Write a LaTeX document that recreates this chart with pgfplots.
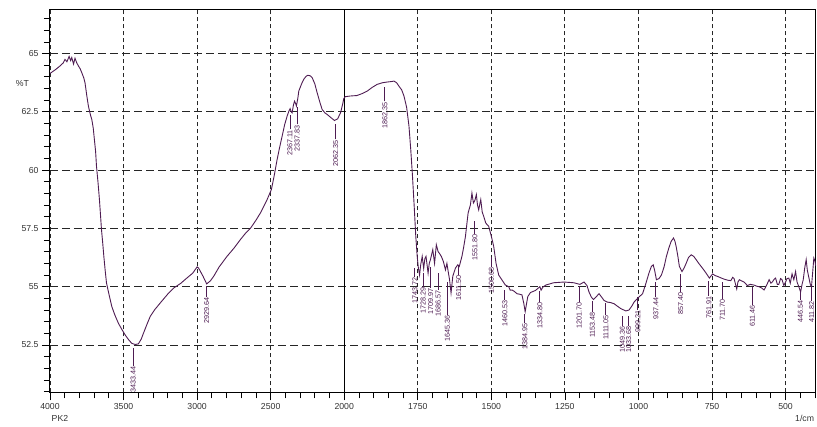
\documentclass[border=0pt]{standalone}
\usepackage{pgfplots}
\pgfplotsset{compat=1.18}
\usepackage{pgfplotstable}
\usepackage{fontspec}
\setmainfont{Liberation Sans}
\definecolor{spec}{RGB}{78,28,82}

\pgfplotstableread{
wn T
4000 64.15
3965 64.30
3932 64.47
3910 64.60
3898 64.75
3885 64.65
3870 64.88
3860 64.70
3852 64.83
3840 64.55
3830 64.80
3818 64.60
3805 64.45
3795 64.35
3784 64.18
3770 63.95
3762 63.75
3750 63.20
3739 62.75
3730 62.50
3722 62.30
3716 62.18
3706 61.80
3698 61.30
3690 60.80
3684 60.17
3674 59.50
3664 58.74
3657 58.10
3650 57.45
3642 56.90
3634 56.30
3625 55.70
3616 55.16
3600 54.70
3580 54.15
3560 53.80
3535 53.43
3510 53.15
3489 52.93
3465 52.72
3444 52.57
3420 52.52
3399 52.55
3380 52.75
3365 53.00
3340 53.40
3319 53.72
3290 54.00
3251 54.30
3200 54.68
3160 54.94
3110 55.15
3070 55.37
3030 55.58
3000 55.85
2990 55.80
2960 55.45
2935 55.12
2910 55.25
2888 55.44
2850 55.85
2797 56.30
2750 56.65
2706 57.02
2670 57.30
2638 57.50
2600 57.85
2570 58.16
2524 58.74
2495 59.17
2475 59.80
2456 60.46
2440 60.95
2422 61.46
2405 61.95
2388 62.32
2375 62.55
2368 62.64
2360 62.50
2354 62.46
2345 62.80
2338 62.96
2330 62.85
2325 62.75
2315 63.10
2309 63.39
2290 63.70
2275 63.90
2260 64.02
2248 64.07
2232 64.05
2218 63.97
2200 63.70
2184 63.32
2165 62.90
2150 62.60
2130 62.45
2116 62.39
2090 62.25
2066 62.13
2045 62.20
2025 62.46
2010 62.85
2003 63.07
1997 63.15
1980 63.18
1957 63.20
1940 63.28
1922 63.39
1905 63.55
1888 63.68
1870 63.75
1854 63.78
1840 63.80
1831 63.82
1822 63.75
1814 63.60
1805 63.45
1797 63.18
1788 62.70
1780 61.89
1774 60.90
1768 59.74
1762 58.40
1757 57.20
1752 56.30
1748 55.80
1744 55.50
1740 55.95
1735 56.30
1730 55.78
1726 56.20
1722 56.30
1715 55.58
1711 56.00
1707 56.16
1699 56.59
1693 56.00
1687 56.80
1681 56.51
1675 56.40
1670 56.30
1663 56.08
1656 55.72
1651 56.00
1646 55.60
1642 55.30
1637 54.73
1631 55.45
1622 55.80
1614 55.94
1609 55.87
1600 56.30
1594 56.70
1588 57.16
1579 58.16
1571 58.52
1566 59.02
1561 58.59
1556 58.70
1551 58.95
1547 58.50
1543 58.30
1536 58.74
1531 58.20
1526 58.02
1519 57.73
1509 57.59
1500 57.16
1492 56.73
1484 56.00
1475 55.50
1464 55.29
1453 55.08
1441 55.00
1436 54.85
1430 54.86
1422 54.80
1413 54.70
1405 54.68
1396 54.65
1390 54.30
1385 53.93
1380 54.30
1376 54.58
1367 54.75
1350 54.84
1335 55.00
1331 54.85
1325 54.98
1315 55.07
1288 55.17
1253 55.20
1220 55.17
1199 55.10
1185 55.20
1175 55.05
1168 54.77
1160 54.55
1153 54.45
1145 54.55
1134 54.70
1125 54.55
1117 54.41
1106 54.34
1095 54.32
1083 54.27
1070 54.15
1060 54.06
1043 53.96
1032 54.00
1022 54.18
1015 54.34
998 54.56
986 54.70
975 55.13
964 55.60
956 55.87
950 55.94
945 55.70
939 55.30
930 55.35
922 55.50
913 55.85
905 56.30
897 56.65
889 56.94
881 57.09
876 56.95
872 56.73
866 56.30
861 55.87
852 55.65
845 55.80
838 56.00
830 56.25
821 56.37
812 56.30
804 56.16
795 56.00
787 55.87
778 55.72
770 55.58
759 55.37
748 55.55
740 55.48
731 55.44
720 55.38
708 55.32
697 55.28
686 55.26
680 55.40
675 55.35
670 55.10
666 54.90
662 55.20
657 55.30
650 55.25
641 55.20
630 55.05
620 55.10
607 55.07
598 55.02
590 55.00
582 54.95
573 54.86
565 55.05
556 55.30
550 55.15
545 55.20
540 55.30
534 55.37
528 55.10
523 55.10
517 55.35
512 55.30
506 55.05
500 55.20
495 55.35
489 55.37
484 55.15
478 55.55
472 55.30
466 55.65
461 55.20
455 55.00
449 54.77
444 55.10
440 55.30
435 55.80
430 56.16
426 55.70
421 55.40
416 55.10
412 55.00
408 55.60
404 56.23
400 56.10
398 55.90
}\spectrum

\pgfplotstableread{
wn bot len lab
3434 51.61 0.77 3433.44
2935 54.57 0.48 2929.64
2369 61.75 0.60 2367.11
2320 61.96 0.73 2337.83
2059 61.32 0.64 2062.35
1862 62.95 0.60 1862.35
1760 55.43 0.39 1743.72
1732 55.00 0.60 1728.29
1706 54.96 0.90 1709.97
1681 54.87 0.73 1686.57
1649 53.80 1.42 1645.36
1611 55.52 0.43 1611.50
1556 57.28 0.52 1551.80
1500 55.86 0.43 1500.68
1454 54.44 0.43 1460.53
1386 53.46 0.38 1384.95
1335 54.36 0.47 1334.80
1202 54.36 0.69 1201.70
1157 53.93 0.47 1153.48
1111 53.80 0.51 1111.05
1055 53.32 0.43 1049.36
1033 53.32 0.43 1033.68
1002 54.01 0.56 999.21
941 54.57 0.65 937.44
857 54.79 0.77 857.40
761 54.61 0.65 761.91
715 54.49 0.73 711.70
613 54.23 0.77 611.46
450 54.44 0.34 446.54
411 54.40 0.60 411.82
}\peaks

\begin{document}
\begin{tikzpicture}
\useasboundingbox (-50pt,-33.7pt) rectangle (767pt,392.3pt);
\begin{axis}[
  at={(0,0)}, anchor=south west,
  scale only axis, width=765pt, height=383pt,
  xmin=0, xmax=2600, ymin=50.47, ymax=66.9,
  x filter/.expression={x>=2000 ? (4000-x)/2 : 3000-x},
  xtick={0,250,500,750,1000,1250,1500,1750,2000,2250,2500},
  xticklabels={4000,3500,3000,2500,2000,1750,1500,1250,1000,750,500},
  minor xtick={0,50,...,2600},
  ytick={52.5,55,57.5,60,62.5,65},
  minor ytick={50.5,51,...,66.5},
  yticklabels={52.5,55,57.5,60,62.5,65},
  tick align=outside,
  xtick pos=bottom, ytick pos=left,
  major tick length=8pt, minor tick length=6pt,
  tick style={black, line width=0.8pt},
  axis line style={black, line width=1pt},
  grid=major,
  x grid style={black!85, line width=0.9pt, dash pattern=on 4pt off 3pt},
  y grid style={black!85, line width=0.9pt, dash pattern=on 8pt off 4pt},
  ticklabel style={font=\fontsize{8.7}{10}\selectfont, text=black!80},
  /pgf/number format/assume math mode=true,
  clip=false,
]
\draw[black, line width=1pt] (rel axis cs:0.384615,0) -- (rel axis cs:0.384615,1);
\addplot[spec, line width=0.9pt] table[x=wn, y=T] {\spectrum};
\addplot[spec, only marks, mark=*, mark size=0pt, mark options={draw=none, fill=none},
  error bars/.cd, y dir=plus, y explicit,
  error mark=none, error bar style={spec, line width=0.8pt}]
  table[x=wn, y=bot, y error=len] {\peaks};
\addplot[only marks, mark=*, mark size=0pt, mark options={draw=none, fill=none},
  point meta=explicit symbolic,
  nodes near coords,
  nodes near coords style={rotate=90, anchor=east, inner sep=0.6pt,
     text=spec, font=\fontsize{7.2}{8}\selectfont}]
  table[x=wn, y=bot, meta=lab] {\peaks};
\node[anchor=east, font=\fontsize{8.7}{10}\selectfont, text=black!80] at (axis description cs:-0.023,0.807) {\%T};
\node[anchor=base west, font=\fontsize{8.7}{10}\selectfont, text=black!80, inner sep=0pt] at (axis description cs:0.002,-0.0775) {PK2};
\node[anchor=base east, font=\fontsize{8.7}{10}\selectfont, text=black!80, inner sep=0pt] at (axis description cs:0.999,-0.0775) {1/cm};
\end{axis}
\end{tikzpicture}
\end{document}
